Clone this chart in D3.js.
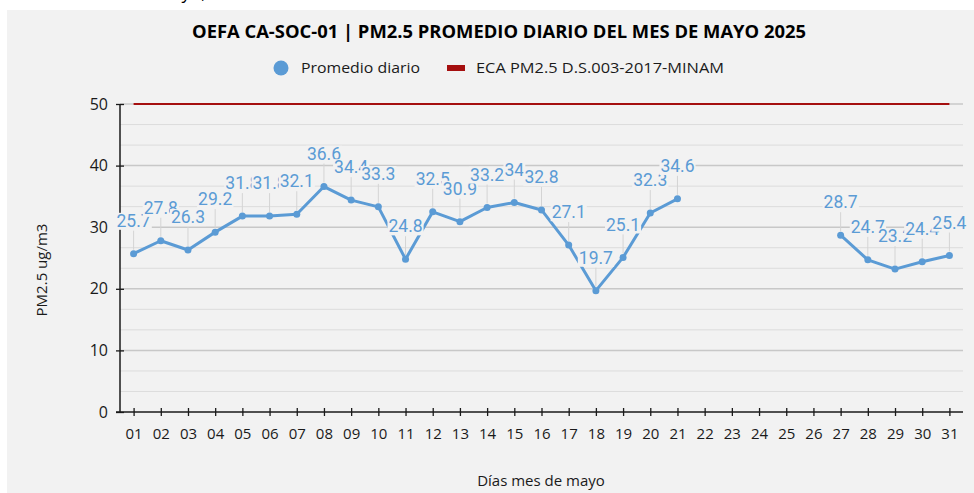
<!DOCTYPE html>
<html>
<head>
<meta charset="utf-8">
<script src="https://cdn.jsdelivr.net/npm/d3@7"></script>
<style>
  body { margin: 0; background: #fff; }
  text { font-family: "Open Sans", "Liberation Sans", sans-serif; }
</style>
</head>
<body>
<script>
// chart data
var days = ["01","02","03","04","05","06","07","08","09","10","11","12","13","14","15","16",
            "17","18","19","20","21","22","23","24","25","26","27","28","29","30","31"];
var promedio = [25.7, 27.8, 26.3, 29.2, 31.8, 31.8, 32.1, 36.6, 34.4, 33.3, 24.8, 32.5, 30.9, 33.2, 34, 32.8,
                27.1, 19.7, 25.1, 32.3, 34.6, null, null, null, null, null, 28.7, 24.7, 23.2, 24.4, 25.4];
var eca = 50;
var yTicks = [0, 10, 20, 30, 40, 50];

var title = "OEFA CA-SOC-01 | PM2.5 PROMEDIO DIARIO DEL MES DE MAYO 2025";
var legendNames = ["Promedio diario", "ECA PM2.5 D.S.003-2017-MINAM"];

// dimensions
var width = 974;
var height = 493;
var margin = { top: 104, right: 11, bottom: 81, left: 120 };

var blue = "#5b9bd5";
var red = "#a50f0f";

var svg = d3.select("body")
    .append("svg")
    .attr("width", width)
    .attr("height", height);

// clipped text from the page above
svg.append("text")
    .attr("x", 206)
    .attr("y", -1)
    .attr("text-anchor", "end")
    .style("font-size", "18px")
    .style("fill", "#000")
    .text("de mayo,");

// chart background
svg.append("rect")
    .attr("x", 7)
    .attr("y", 10)
    .attr("width", width - 7)
    .attr("height", height - 10)
    .attr("fill", "#f2f2f2");

var x = d3.scalePoint()
    .domain(days)
    .range([margin.left, width - margin.right])
    .padding(0.5);

var y = d3.scaleLinear()
    .domain([0, 50])
    .range([height - margin.bottom, margin.top]);

// minor gridlines (3 per major step)
var minor = d3.range(0, 16).map(function(i) { return i * 10 / 3; })
    .filter(function(v) { return Math.abs(v - Math.round(v / 10) * 10) > 0.01; });

svg.append("g").selectAll("line")
    .data(minor)
    .enter().append("line")
    .attr("x1", margin.left)
    .attr("x2", width - margin.right)
    .attr("y1", function(d) { return y(d); })
    .attr("y2", function(d) { return y(d); })
    .attr("stroke", "#dcdcdc")
    .attr("stroke-width", 1);

svg.append("g").selectAll("line")
    .data(yTicks.filter(function(d) { return d > 0; }))
    .enter().append("line")
    .attr("x1", margin.left)
    .attr("x2", width - margin.right)
    .attr("y1", function(d) { return y(d); })
    .attr("y2", function(d) { return y(d); })
    .attr("stroke", "#c8c8c8")
    .attr("stroke-width", 1.5);

// axes
var yAxis = svg.append("g")
    .attr("transform", "translate(" + margin.left + ",0)")
    .call(d3.axisLeft(y).tickValues(yTicks).tickSize(4).tickPadding(8));
yAxis.selectAll(".tick line").attr("x2", 4).attr("x1", -4);

var xAxis = svg.append("g")
    .attr("transform", "translate(0," + y(0) + ")")
    .call(d3.axisBottom(x).tickSize(4).tickPadding(12).tickSizeOuter(0));
xAxis.selectAll(".tick line").attr("y1", -4).attr("y2", 4);

[yAxis, xAxis].forEach(function(a) {
    a.select(".domain").attr("stroke", "#1a1a1a").attr("stroke-width", 1.5);
    a.selectAll(".tick line").attr("stroke", "#1a1a1a").attr("stroke-width", 1.3);
    a.selectAll("text")
        .style("font-family", "'Open Sans', sans-serif")
        .style("font-size", "15px")
        .style("fill", "#1a1a1a");
});
yAxis.select(".domain").attr("d", "M0," + y(50) + "V" + y(0));
xAxis.select(".domain").attr("d", "M" + (margin.left - 4) + ",0H" + (width - margin.right));
yAxis.selectAll("text").style("font-size", "16px");

// ECA limit line
svg.append("line")
    .attr("x1", x(days[0]))
    .attr("x2", x(days[days.length - 1]))
    .attr("y1", y(eca))
    .attr("y2", y(eca))
    .attr("stroke", red)
    .attr("stroke-width", 2);

var pts = days.map(function(d, i) { return { day: d, v: promedio[i] }; })
    .filter(function(d) { return d.v != null; });

var labelOffset = 33;

// leader lines from label to point
svg.append("g").selectAll("line")
    .data(pts)
    .enter().append("line")
    .attr("x1", function(d) { return x(d.day); })
    .attr("x2", function(d) { return x(d.day); })
    .attr("y1", function(d) { return y(d.v) - labelOffset + 10; })
    .attr("y2", function(d) { return y(d.v) - 4; })
    .attr("stroke", "#d4d4d4")
    .attr("stroke-width", 1);

// daily average line
var line = d3.line()
    .defined(function(d) { return d != null; })
    .x(function(d, i) { return x(days[i]); })
    .y(function(d) { return y(d); });

svg.append("path")
    .datum(promedio)
    .attr("d", line)
    .attr("fill", "none")
    .attr("stroke", blue)
    .attr("stroke-width", 3)
    .attr("stroke-linejoin", "round");

svg.append("g").selectAll("circle")
    .data(pts)
    .enter().append("circle")
    .attr("cx", function(d) { return x(d.day); })
    .attr("cy", function(d) { return y(d.v); })
    .attr("r", 3.5)
    .attr("fill", blue);

// data labels, each on its own background so later ones cover earlier ones
pts.forEach(function(d) {
    var g = svg.append("g");
    var bg = g.append("rect").attr("fill", "#f2f2f2");
    var t = g.append("text")
        .attr("x", x(d.day))
        .attr("y", y(d.v) - labelOffset)
        .attr("dy", "0.35em")
        .attr("text-anchor", "middle")
        .style("font-family", "Roboto, sans-serif")
        .style("font-size", "17.5px")
        .style("fill", blue)
        .text(d.v);
    var b = t.node().getBBox();
    bg.attr("x", b.x - 1).attr("y", b.y + 2).attr("width", b.width + 2).attr("height", b.height - 3);
});

// title
svg.append("text")
    .attr("x", 499)
    .attr("y", 38)
    .attr("text-anchor", "middle")
    .attr("textLength", 614)
    .attr("lengthAdjust", "spacingAndGlyphs")
    .style("font-size", "18px")
    .style("font-weight", "bold")
    .style("fill", "#000")
    .text(title);

// legend
var legend = svg.append("g");
legend.append("circle")
    .attr("cx", 281)
    .attr("cy", 68)
    .attr("r", 7.5)
    .attr("fill", blue);
legend.append("text")
    .attr("x", 301)
    .attr("y", 73)
    .attr("textLength", 119)
    .attr("lengthAdjust", "spacingAndGlyphs")
    .style("font-size", "14.5px")
    .style("fill", "#1a1a1a")
    .text(legendNames[0]);
legend.append("rect")
    .attr("x", 447)
    .attr("y", 65)
    .attr("width", 18)
    .attr("height", 6)
    .attr("fill", red);
legend.append("text")
    .attr("x", 476)
    .attr("y", 73)
    .attr("textLength", 248)
    .attr("lengthAdjust", "spacingAndGlyphs")
    .style("font-size", "14.5px")
    .style("fill", "#1a1a1a")
    .text(legendNames[1]);

// axis titles
svg.append("text")
    .attr("transform", "translate(47," + 270 + ") rotate(-90)")
    .attr("text-anchor", "middle")
    .style("font-size", "15px")
    .style("fill", "#1a1a1a")
    .text("PM2.5 ug/m3");

svg.append("text")
    .attr("x", 541)
    .attr("y", 486)
    .attr("text-anchor", "middle")
    .style("font-size", "15px")
    .style("fill", "#1a1a1a")
    .text("Días mes de mayo");
</script>
</body>
</html>
